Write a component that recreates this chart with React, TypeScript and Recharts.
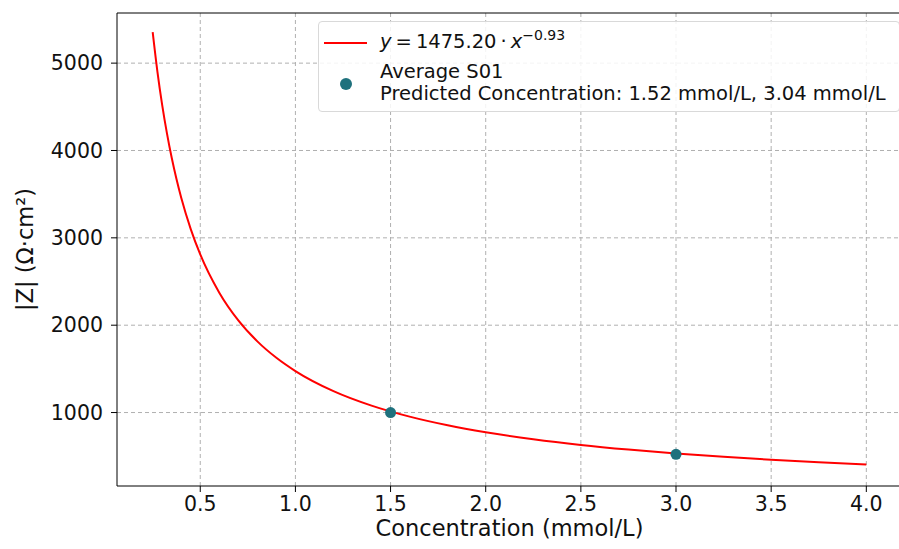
import {
  ComposedChart,
  Line,
  Scatter,
  XAxis,
  YAxis,
  CartesianGrid,
  ReferenceLine,
} from 'recharts';

// fitted curve
const fitX = [0.25, 0.275, 0.3, 0.325, 0.35, 0.375, 0.4, 0.45, 0.5, 0.6, 0.7, 0.8, 0.9, 1.0, 1.2, 1.4, 1.6, 1.8, 2.0, 2.25, 2.5, 2.75, 3.0, 3.25, 3.5, 3.75, 4.0];
const fitY = [5355, 4901, 4520, 4196, 3916, 3673, 3459, 3100, 2810, 2372, 2055, 1815, 1627, 1475, 1245, 1079, 953, 854, 774, 694, 629, 576, 531, 493, 460, 431, 406];

// measured averages
const pointX = [1.5, 3.0];
const pointY = [1000, 522];

const xTicks = [0.5, 1.0, 1.5, 2.0, 2.5, 3.0, 3.5, 4.0];
const yTicks = [1000, 2000, 3000, 4000, 5000];

const FONT = '"DejaVu Sans", sans-serif';
const DOT = '#1f717d';
const Y_MAX = 5574;

const fitData = fitX.map((x, i) => ({ x, y: fitY[i] }));
const pointData = pointX.map((x, i) => ({ x, y: pointY[i] }));

function LegendBox() {
  return (
    <div
      style={{
        position: 'absolute',
        left: 318,
        top: 21,
        width: 582,
        height: 91,
        boxSizing: 'border-box',
        fontFamily: FONT,
        fontSize: 19.5,
        color: '#111',
        background: 'rgba(255,255,255,0.85)',
        border: '1px solid #d9d9d9',
        borderRadius: 4,
      }}
    >
      <span style={{ position: 'absolute', left: 5, top: 20, width: 43, height: 2, background: 'red' }} />
      <span style={{ position: 'absolute', left: 61, top: 5, whiteSpace: 'nowrap' }}>
        <i>y</i>
        <span style={{ margin: '0 4px' }}>=</span>1475.20
        <span style={{ margin: '0 4px' }}>·</span>
        <i>x</i>
        <sup style={{ fontSize: 14 }}>−0.93</sup>
      </span>
      <span
        style={{
          position: 'absolute',
          left: 21,
          top: 56,
          width: 12,
          height: 12,
          borderRadius: '50%',
          background: DOT,
        }}
      />
      <span style={{ position: 'absolute', left: 61, top: 39, lineHeight: '22px', whiteSpace: 'nowrap' }}>
        Average S01
        <br />
        Predicted Concentration: 1.52 mmol/L, 3.04 mmol/L
      </span>
    </div>
  );
}

export default function App() {
  return (
    <div style={{ position: 'absolute', left: 0, top: 0, width: 899, height: 549, background: '#fff' }}>
      <ComposedChart
        width={899}
        height={549}
        margin={{ top: 13, right: -3, bottom: 23, left: 57 }}
      >
        <CartesianGrid stroke="#b0b0b0" strokeDasharray="4 3" horizontalValues={yTicks} verticalValues={xTicks} />
        <XAxis
          type="number"
          dataKey="x"
          domain={[0.0625, 4.1875]}
          ticks={xTicks}
          allowDataOverflow
          tickFormatter={(v: number) => v.toFixed(1)}
          tick={{ fill: '#111', fontSize: 20.5, fontFamily: FONT }}
          tickLine={{ stroke: '#000' }}
          axisLine={{ stroke: '#000' }}
          tickSize={6}
          tickMargin={4}
          height={40}
          label={{ value: 'Concentration (mmol/L)', position: 'insideBottom', offset: -10, fill: '#111', fontSize: 22.5, fontFamily: FONT }}
        />
        <YAxis
          type="number"
          dataKey="y"
          domain={[159, Y_MAX]}
          ticks={yTicks}
          allowDataOverflow
          tick={{ fill: '#111', fontSize: 20.5, fontFamily: FONT }}
          tickLine={{ stroke: '#000' }}
          axisLine={{ stroke: '#000' }}
          tickSize={6}
          tickMargin={8}
          width={60}
          label={{ value: '|Z| (Ω·cm²)', angle: -90, position: 'insideLeft', offset: -32, fill: '#111', fontSize: 22.5, fontFamily: FONT, style: { textAnchor: 'middle' } }}
        />
        <ReferenceLine y={Y_MAX} stroke="#000" strokeWidth={1} />
        <Line
          data={fitData}
          dataKey="y"
          type="monotone"
          stroke="red"
          strokeWidth={2}
          dot={false}
          isAnimationActive={false}
        />
        <Scatter
          data={pointData}
          dataKey="y"
          fill={DOT}
          shape={(p: any) => <circle cx={p.cx} cy={p.cy} r={5.5} fill={DOT} />}
          isAnimationActive={false}
        />
      </ComposedChart>
      <LegendBox />
    </div>
  );
}
